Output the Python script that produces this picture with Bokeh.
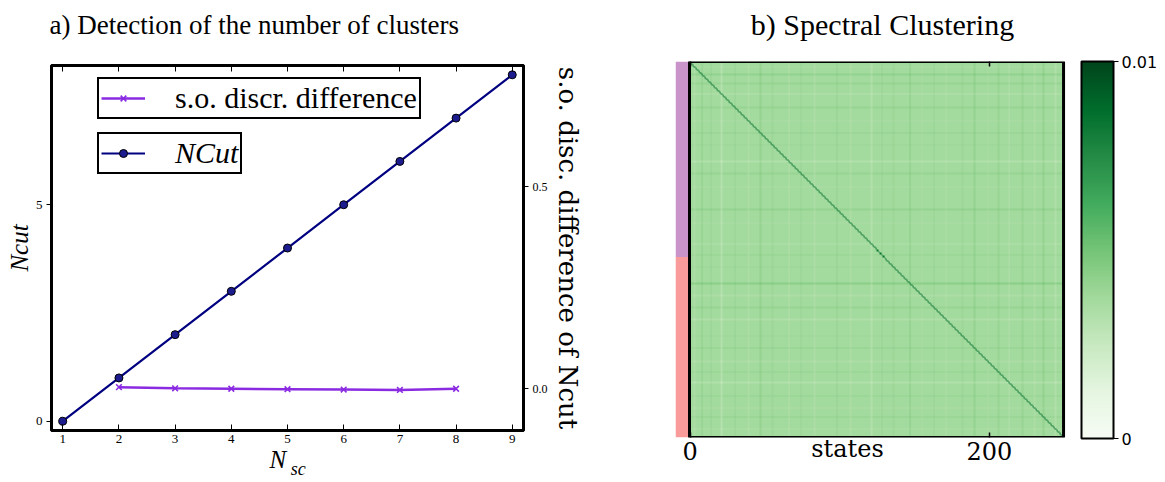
import numpy as np
from bokeh.plotting import figure
from bokeh.layouts import row
from bokeh.models import (Range1d, LinearAxis, FixedTicker, PrintfTickFormatter,
                          CustomJSTickFormatter, Legend, LegendItem,
                          LinearColorMapper, ColorBar)
from bokeh.embed import file_html
from bokeh.resources import INLINE

# ---------------- data: panel a ----------------
n_sc = [1, 2, 3, 4, 5, 6, 7, 8, 9]
ncut = [0, 1, 2, 3, 4, 5, 6, 7, 8]
so_n_sc = [2, 3, 4, 5, 6, 7, 8]
so_diff = [0.004, 0.001, 0.0, -0.001, -0.002, -0.003, 0.0]
left_ticks = [0, 5]
right_ticks = [0.0, 0.5]

# ---------------- data: panel b ----------------
n_states = 250
cluster_sizes = [130, 120]
cluster_colors = ["#c994c9", "#f99b9b"]
base_level = 0.0037
diag_level = 0.0085
stripe_states = [3, 8, 14, 21, 30, 39, 47, 55, 66, 74, 83, 98, 107, 121, 128, 136,
                 147, 155, 163, 171, 182, 190, 199, 206, 213, 222, 230, 236, 244]
stripe_deltas = [-0.0003, 0.0005, 0.0003, -0.0006, 0.0003, -0.0003, 0.0004, 0.0002,
                 -0.0005, 0.0003, -0.0003, 0.0004, -0.0003, -0.0005, 0.0003, 0.0002,
                 0.0007, -0.0003, 0.0003, -0.0004, 0.0002, 0.0004, -0.0003, 0.0003,
                 -0.0005, 0.0003, -0.0003, 0.0004, -0.0004]
heat_ticks = [0, 200]
cbar_ticks = [0, 0.01]
greens9 = ["#f7fcf5", "#e5f5e0", "#c7e9c0", "#a1d99b", "#74c476",
           "#41ab5d", "#238b45", "#006d2c", "#00441b"]

title_a = "a) Detection of the number of clusters"
title_b = "b) Spectral Clustering"

SERIF = "Liberation Serif"
EMPTY = CustomJSTickFormatter(code="return ''")


def const_fmt(s):
    return CustomJSTickFormatter(code="return %r" % s)


def text_axis(tick, text, font, size, style, standoff, **kw):
    """An axis with a single, tick-less label used as a positioned text."""
    return LinearAxis(ticker=FixedTicker(ticks=[tick]), formatter=const_fmt(text),
                      axis_line_color=None, major_tick_line_color=None,
                      minor_tick_line_color=None, major_tick_in=0, major_tick_out=0,
                      major_label_standoff=standoff, major_label_text_font=font,
                      major_label_text_font_size=size, major_label_text_font_style=style,
                      major_label_text_color="black", **kw)


def prep(p):
    if "frame_align" in p.properties():
        p.frame_align = False
    try:
        p.title = None
    except Exception:
        p.title.visible = False
    p.grid.visible = False


# ================= panel a =================
p1 = figure(width=648, height=481, x_range=Range1d(0.8, 9.2), y_range=Range1d(-0.214, 8.215),
            output_backend="svg", toolbar_location=None,
            min_border_left=51, min_border_right=125, min_border_top=65, min_border_bottom=49)
prep(p1)
p1.outline_line_color = "black"
p1.outline_line_width = 3
p1.extra_y_ranges = {"so": Range1d(-0.1034, 0.8005)}

xa = p1.xaxis[0]
xa.ticker = FixedTicker(ticks=n_sc)
xa.major_label_text_font = SERIF
xa.major_label_text_font_size = "13px"
xa.major_label_text_color = "black"
xa.axis_line_width = 3
xa.major_tick_in = 6
xa.major_tick_out = 0
xa.minor_tick_line_color = None
xa.major_label_standoff = 4

ya = p1.yaxis[0]
ya.ticker = FixedTicker(ticks=left_ticks)
ya.major_label_text_font = SERIF
ya.major_label_text_font_size = "13px"
ya.major_label_text_color = "black"
ya.axis_line_width = 3
ya.major_tick_in = 0
ya.major_tick_out = 5
ya.minor_tick_line_color = None
ya.major_label_standoff = 4
ya.axis_label = "Ncut"
ya.axis_label_text_font = SERIF
ya.axis_label_text_font_style = "italic"
ya.axis_label_text_font_size = "25px"
ya.axis_label_text_color = "black"
ya.axis_label_standoff = 0

top_ax = LinearAxis(ticker=FixedTicker(ticks=n_sc), formatter=EMPTY,
                    major_tick_in=6, major_tick_out=0, axis_line_width=3,
                    minor_tick_line_color=None)
p1.add_layout(top_ax, "above")
p1.add_layout(text_axis(4.409, title_a, SERIF, "27px", "normal", 26), "above")

right_ax = LinearAxis(y_range_name="so", ticker=FixedTicker(ticks=right_ticks),
                      formatter=PrintfTickFormatter(format="%.1f"),
                      major_label_text_font=SERIF, major_label_text_font_size="12px",
                      major_label_text_color="black",
                      major_tick_in=0, major_tick_out=5, axis_line_width=3,
                      minor_tick_line_color=None, major_label_standoff=4,
                      axis_label="s.o. disc. difference of Ncut",
                      axis_label_text_font="DejaVu Serif", axis_label_text_font_size="26px",
                      axis_label_text_font_style="normal", axis_label_text_color="black",
                      axis_label_standoff=2)
p1.add_layout(right_ax, "right")

# x-axis label N_sc made of two positioned texts
p1.add_layout(text_axis(4.827, "N", SERIF, "25px", "italic", 0), "below")
p1.add_layout(text_axis(5.19, "sc", SERIF, "18px", "italic", -17), "below")

r1 = p1.line(so_n_sc, so_diff, y_range_name="so", line_color="#8a2be2", line_width=2.5)
r2 = p1.scatter(so_n_sc, so_diff, y_range_name="so", marker="x", size=8,
                line_color="#8a2be2", line_width=1.6)
r3 = p1.line(n_sc, ncut, line_color="#000080", line_width=2.2)
r4 = p1.scatter(n_sc, ncut, marker="circle", size=8, fill_color="#1c1c8e",
                line_color="black", line_width=1)


def make_legend(label, renderers, loc, style):
    return Legend(items=[LegendItem(label=label, renderers=renderers)], location=loc,
                  border_line_color="black", border_line_width=2.5, border_line_alpha=1,
                  background_fill_color="white", background_fill_alpha=1,
                  padding=2, margin=0, spacing=0, glyph_width=44, glyph_height=20,
                  label_standoff=30, label_text_font=SERIF, label_text_font_size="30px",
                  label_text_color="black", label_text_font_style=style)


p1.add_layout(make_legend("s.o. discr. difference", [r1, r2], (46, 311), "normal"))
p1.add_layout(make_legend("NCut", [r3, r4], (46, 256), "italic"))

# ================= panel b =================
def hex2rgb(h):
    return [int(h[i:i + 2], 16) for i in (1, 3, 5)]


anchors = np.array([hex2rgb(c) for c in greens9], dtype=float)
pos = np.linspace(0, 1, len(greens9))
t = np.linspace(0, 1, 256)
greens256 = ["#%02x%02x%02x" % tuple(int(round(np.interp(v, pos, anchors[:, k]))) for k in range(3))
             for v in t]
mapper = LinearColorMapper(palette=greens256, low=cbar_ticks[0], high=cbar_ticks[-1])

delta = np.zeros(n_states)
delta[stripe_states] = stripe_deltas
M = base_level + delta[:, None] + delta[None, :]
M[np.arange(n_states), np.arange(n_states)] = diag_level

half = 0.5
strip_left = -9.86
p2 = figure(width=516, height=481, x_range=Range1d(strip_left, 316.97),
            y_range=Range1d(-half, n_states - half),
            output_backend="svg", toolbar_location=None, y_axis_location=None,
            min_border_left=27, min_border_right=0, min_border_top=61, min_border_bottom=44)
prep(p2)
p2.outline_line_color = None

# state 0 at the top: image rows are stacked bottom-up, so reverse
p2.image(image=[M[::-1]], x=-half, y=-half, dw=n_states, dh=n_states, color_mapper=mapper)

tops = n_states - half - np.concatenate([[0], np.cumsum(cluster_sizes)[:-1]])
bottoms = tops - np.array(cluster_sizes)
p2.quad(left=strip_left, right=-half, top=tops, bottom=bottoms, fill_color=cluster_colors,
        line_color=None)
p2.quad(left=-half, right=n_states - half, bottom=-half, top=n_states - half,
        fill_color=None, line_color="black", line_width=3)

bx = p2.xaxis[0]
bx.ticker = FixedTicker(ticks=heat_ticks)
bx.axis_line_color = None
bx.major_tick_in = 5
bx.major_tick_out = 0
bx.major_tick_line_width = 1.5
bx.minor_tick_line_color = None
bx.major_label_text_font = "DejaVu Serif"
bx.major_label_text_font_size = "24px"
bx.major_label_text_color = "black"
bx.major_label_standoff = 4

p2.add_layout(text_axis(105.1, "states", "DejaVu Serif", "24px", "normal", -28), "below")

tx = LinearAxis(ticker=FixedTicker(ticks=heat_ticks), formatter=EMPTY,
                axis_line_color=None, major_tick_in=5, major_tick_out=0,
                major_tick_line_width=1.5, minor_tick_line_color=None)
p2.add_layout(tx, "above")
p2.add_layout(text_axis(128.5, title_b, SERIF, "30px", "normal", 21), "above")

cb = ColorBar(color_mapper=mapper, ticker=FixedTicker(ticks=cbar_ticks),
              formatter=PrintfTickFormatter(format="%g"),
              location=(406, -1), width=32, height=377, padding=0, margin=0,
              background_fill_alpha=0, border_line_color=None,
              bar_line_color="black", bar_line_width=2,
              major_tick_in=0, major_tick_out=5, major_tick_line_color="black",
              label_standoff=3, major_label_text_font="DejaVu Sans",
              major_label_text_font_size="16px", major_label_text_color="black")
p2.add_layout(cb)

layout = row(p1, p2)
open("out.html", "w").write(file_html(layout, INLINE))
